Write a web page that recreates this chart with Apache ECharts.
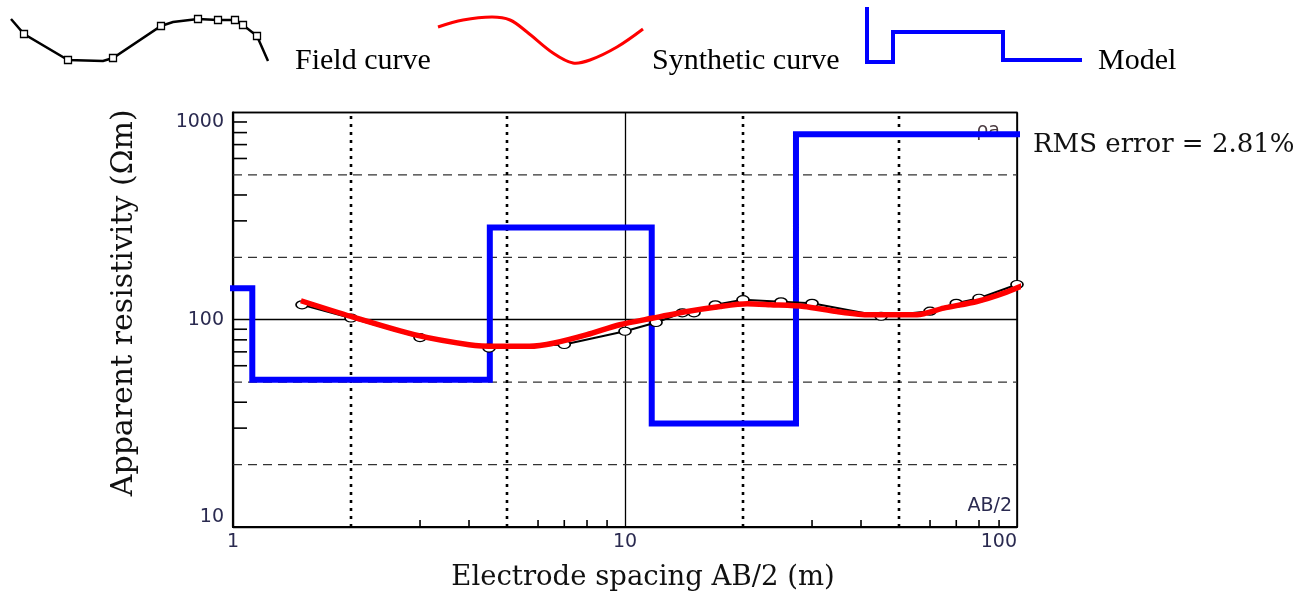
<!DOCTYPE html>
<html>
<head>
<meta charset="utf-8">
<script src="https://cdn.jsdelivr.net/npm/echarts@6/dist/echarts.min.js"></script>
<style>
  html, body { margin: 0; padding: 0; background: #fff; }
  #chart { width: 1311px; height: 593px; }
</style>
</head>
<body>
<div id="chart"></div>
<script>
// Vertical electrical sounding: field data, fitted synthetic curve and layered model
const fieldAB  = [1.5, 2, 3, 4.5, 7, 10, 12, 14, 15, 17, 20, 25, 30, 45, 60, 70, 80, 100];
const fieldRho = [118, 102, 82, 73, 76, 88, 97, 108, 108, 118, 125, 122, 120, 104, 110, 120, 127, 148];

const synthAB  = [1.49, 2, 2.9, 4, 4.7, 5.7, 6.6, 8, 9.7, 11.8, 14.4, 17.5, 20.5, 23.5, 28.6, 34.7, 42, 55.6, 65, 79, 92.5, 107];
const synthRho = [123.5, 103.7, 84.7, 75.8, 74.4, 74.4, 77.2, 84.7, 94.6, 101.9, 109.6, 115.9, 119.4, 118.1, 115.9, 109.6, 105.7, 105.7, 113.8, 122.5, 134.4, 150.3];

// Layer resistivities (Ωm) and layer bottoms (m)
const modelRho   = [142, 51.4, 279, 31.6, 785];
const modelDepth = [1.12, 4.52, 11.7, 27.3];

// Axis ranges and guide lines
const xRange = [1, 100];
const yRange = [10, 1000];
const xDotted = [2, 5, 20, 50];
const yDashed = [20, 50, 200, 500];
const xMinor = [3, 4, 6, 7, 8, 9, 30, 40, 60, 70, 80, 90];
const yMinor = [30, 40, 60, 70, 80, 90, 300, 400, 600, 700, 800, 900];

const rmsText = 'RMS error = 2.81%';

// Step outline of the layered model
const modelLine = [[xRange[0], modelRho[0]]];
modelDepth.forEach((d, i) => {
  modelLine.push([d, modelRho[i]]);
  modelLine.push([d, modelRho[i + 1]]);
});
modelLine.push([xRange[1], modelRho[modelRho.length - 1]]);

const fieldData = fieldAB.map((x, i) => [x, fieldRho[i]]);
const synthData = synthAB.map((x, i) => [x, synthRho[i]]);

const labelFont = 'DejaVu Sans';
const titleFont = 'DejaVu Serif';

function lineShape(p1, p2) {
  return { x1: p1[0], y1: p1[1], x2: p2[0], y2: p2[1] };
}

const chart = echarts.init(document.getElementById('chart'), null, { renderer: 'canvas' });

chart.setOption({
  animation: false,
  backgroundColor: '#ffffff',
  grid: {
    left: 233, right: 294, top: 112.5, bottom: 66,
    containLabel: false, outerBoundsMode: 'none',
    show: true, borderColor: '#000', borderWidth: 1.6, backgroundColor: 'transparent'
  },
  xAxis: {
    type: 'log', logBase: 10, min: xRange[0], max: xRange[1],
    name: 'Electrode spacing AB/2 (m)',
    nameLocation: 'middle', nameGap: 37,
    nameTextStyle: { fontFamily: titleFont, fontSize: 27.5, color: '#111', padding: [0, 0, 0, 36] },
    axisLine: { lineStyle: { color: '#000', width: 2.2 } },
    axisTick: { show: false },
    axisLabel: {
      fontFamily: labelFont, fontSize: 19, color: '#2a2a50', margin: 6,
      alignMaxLabel: 'right', formatter: v => String(v)
    },
    splitLine: { show: true, lineStyle: { color: '#000', width: 1.3 } }
  },
  yAxis: {
    type: 'log', logBase: 10, min: yRange[0], max: yRange[1],
    name: 'Apparent resistivity (Ωm)',
    nameLocation: 'middle', nameGap: 94,
    nameTextStyle: { fontFamily: titleFont, fontSize: 30, color: '#111', padding: [0, 0, 0, 34] },
    axisLine: { lineStyle: { color: '#000', width: 2.2 } },
    axisTick: { show: false },
    axisLabel: {
      fontFamily: labelFont, fontSize: 19, color: '#2a2a50', margin: 9,
      verticalAlignMaxLabel: 'top', verticalAlignMinLabel: 'bottom',
      formatter: v => String(v)
    },
    splitLine: { show: true, lineStyle: { color: '#000', width: 1.3 } }
  },
  series: [
    {
      // dashed horizontal guides
      type: 'custom', z: 1, silent: true,
      data: yDashed.map(v => [xRange[0], v]),
      renderItem: (params, api) => ({
        type: 'line',
        shape: lineShape(api.coord([xRange[0], api.value(1)]), api.coord([xRange[1], api.value(1)])),
        style: { stroke: '#333', lineWidth: 1.4, lineDash: [9, 6] }
      })
    },
    {
      // dotted vertical guides
      type: 'custom', z: 1, silent: true,
      data: xDotted.map(v => [v, yRange[0]]),
      renderItem: (params, api) => ({
        type: 'line',
        shape: lineShape(api.coord([api.value(0), yRange[0]]), api.coord([api.value(0), yRange[1]])),
        style: { stroke: '#000', lineWidth: 2.6, lineDash: [3, 5] }
      })
    },
    {
      // minor ticks on the resistivity axis
      type: 'custom', z: 1, silent: true,
      data: yMinor.map(v => [xRange[0], v]),
      renderItem: (params, api) => {
        const p = api.coord([xRange[0], api.value(1)]);
        return { type: 'line', shape: lineShape(p, [p[0] + 14, p[1]]), style: { stroke: '#000', lineWidth: 1.6 } };
      }
    },
    {
      // minor ticks on the spacing axis
      type: 'custom', z: 1, silent: true,
      data: xMinor.map(v => [v, yRange[0]]),
      renderItem: (params, api) => {
        const p = api.coord([api.value(0), yRange[0]]);
        return { type: 'line', shape: lineShape(p, [p[0], p[1] - 7]), style: { stroke: '#000', lineWidth: 1.6 } };
      }
    },
    {
      name: 'Model', type: 'line', z: 3, data: modelLine,
      symbol: 'none', clip: false,
      lineStyle: { color: '#0000ff', width: 6, join: 'miter', cap: 'square' }
    },
    {
      name: 'Field curve', type: 'line', z: 4, data: fieldData,
      symbol: 'circle', symbolSize: [12, 8], showAllSymbol: true, clip: false,
      itemStyle: { color: '#fff', borderColor: '#000', borderWidth: 1.4 },
      lineStyle: { color: '#000', width: 2 }
    },
    {
      name: 'Synthetic curve', type: 'line', z: 5, data: synthData,
      symbol: 'none', smooth: 0.25, clip: false,
      lineStyle: { color: '#ff0000', width: 5.5 }
    }
  ],
  graphic: [
    // in-plot captions
    { type: 'text', z: 0, style: { x: 988, y: 131, text: 'ρa', font: '19px "DejaVu Sans"', fill: '#4a3a40', align: 'center', verticalAlign: 'middle' } },
    { type: 'text', z: 0, style: { x: 1012, y: 506, text: 'AB/2', font: '19px "DejaVu Sans"', fill: '#2a2a50', align: 'right', verticalAlign: 'middle' } },
    { type: 'text', style: { x: 1033, y: 145, text: rmsText, font: '26px "DejaVu Serif"', fill: '#111', align: 'left', verticalAlign: 'middle' } },

    // key: field curve
    { type: 'polyline', shape: { points: [[11,19],[24,34],[68,60],[103,61],[113,58],[161,26],[173,22],[198,19],[218,20],[235,20],[243,25],[257,36],[268,61]] },
      style: { stroke: '#000', lineWidth: 2.5, fill: null } },
    ...[[24,34],[68,60],[113,58],[161,26],[198,19],[218,20],[235,20],[243,25],[257,36]].map(p => ({
      type: 'rect', shape: { x: p[0] - 3.5, y: p[1] - 3.5, width: 7, height: 7 },
      style: { fill: '#fff', stroke: '#000', lineWidth: 1.3 }
    })),
    { type: 'text', style: { x: 295, y: 61, text: 'Field curve', font: '30px "Liberation Serif"', fill: '#000', verticalAlign: 'middle' } },

    // key: synthetic curve
    { type: 'polyline', shape: { smooth: 0.35, points: [[438,27],[463,20],[492,17],[510,20],[527,32],[553,53],[573,63],[590,60],[617,47],[643,29]] },
      style: { stroke: '#ff0000', lineWidth: 3, fill: null } },
    { type: 'text', style: { x: 652, y: 61, text: 'Synthetic curve', font: '30px "Liberation Serif"', fill: '#000', verticalAlign: 'middle' } },

    // key: model
    { type: 'polyline', shape: { points: [[867,7],[867,62],[893,62],[893,32],[1003,32],[1003,60],[1082,60]] },
      style: { stroke: '#0000ff', lineWidth: 4, fill: null } },
    { type: 'text', style: { x: 1098, y: 61, text: 'Model', font: '30px "Liberation Serif"', fill: '#000', verticalAlign: 'middle' } }
  ]
});
</script>
</body>
</html>
